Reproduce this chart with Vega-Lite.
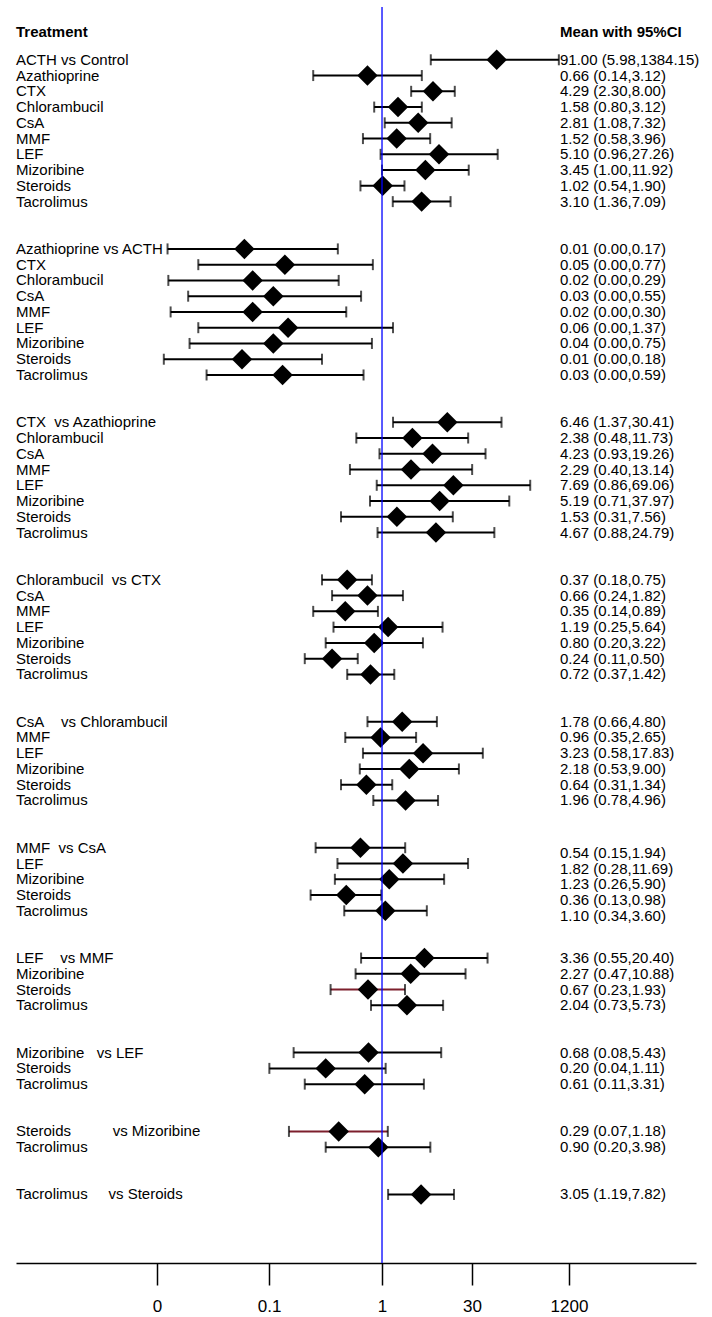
{
  "$schema": "https://vega.github.io/schema/vega-lite/v6.json",
  "width": 680,
  "height": 1256,
  "autosize": {"type": "none"},
  "padding": {"left": 16, "top": 7, "right": 16, "bottom": 54},
  "background": "white",
  "config": {"view": {"stroke": null}, "font": "Liberation Sans"},
  "data": {"values": [
    {"key": "ACTH vs Control", "label": "ACTH vs Control", "or": 26.5, "lo": 4.03, "hi": 156.5, "ci": "91.00 (5.98,1384.15)"},
    {"key": "Azathioprine vs Control", "label": "Azathioprine", "or": 0.66, "lo": 0.14, "hi": 3.12, "ci": "0.66 (0.14,3.12)"},
    {"key": "CTX vs Control", "label": "CTX", "or": 4.29, "lo": 2.30, "hi": 8.00, "ci": "4.29 (2.30,8.00)"},
    {"key": "Chlorambucil vs Control", "label": "Chlorambucil", "or": 1.58, "lo": 0.80, "hi": 3.12, "ci": "1.58 (0.80,3.12)"},
    {"key": "CsA vs Control", "label": "CsA", "or": 2.81, "lo": 1.08, "hi": 7.32, "ci": "2.81 (1.08,7.32)"},
    {"key": "MMF vs Control", "label": "MMF", "or": 1.52, "lo": 0.58, "hi": 3.96, "ci": "1.52 (0.58,3.96)"},
    {"key": "LEF vs Control", "label": "LEF", "or": 5.10, "lo": 0.96, "hi": 27.26, "ci": "5.10 (0.96,27.26)"},
    {"key": "Mizoribine vs Control", "label": "Mizoribine", "or": 3.45, "lo": 1.00, "hi": 11.92, "ci": "3.45 (1.00,11.92)"},
    {"key": "Steroids vs Control", "label": "Steroids", "or": 1.02, "lo": 0.54, "hi": 1.90, "ci": "1.02 (0.54,1.90)"},
    {"key": "Tacrolimus vs Control", "label": "Tacrolimus", "or": 3.10, "lo": 1.36, "hi": 7.09, "ci": "3.10 (1.36,7.09)"},

    {"key": "Azathioprine vs ACTH", "label": "Azathioprine vs ACTH", "or": 0.0196, "lo": 0.00218, "hi": 0.283, "ci": "0.01 (0.00,0.17)"},
    {"key": "CTX vs ACTH", "label": "CTX", "or": 0.0623, "lo": 0.00525, "hi": 0.77, "ci": "0.05 (0.00,0.77)"},
    {"key": "Chlorambucil vs ACTH", "label": "Chlorambucil", "or": 0.0248, "lo": 0.00223, "hi": 0.29, "ci": "0.02 (0.00,0.29)"},
    {"key": "CsA vs ACTH", "label": "CsA", "or": 0.0448, "lo": 0.00393, "hi": 0.55, "ci": "0.03 (0.00,0.55)"},
    {"key": "MMF vs ACTH", "label": "MMF", "or": 0.0248, "lo": 0.00238, "hi": 0.36, "ci": "0.02 (0.00,0.30)"},
    {"key": "LEF vs ACTH", "label": "LEF", "or": 0.0683, "lo": 0.00525, "hi": 1.37, "ci": "0.06 (0.00,1.37)"},
    {"key": "Mizoribine vs ACTH", "label": "Mizoribine", "or": 0.0448, "lo": 0.00409, "hi": 0.75, "ci": "0.04 (0.00,0.75)"},
    {"key": "Steroids vs ACTH", "label": "Steroids", "or": 0.0183, "lo": 0.00196, "hi": 0.18, "ci": "0.01 (0.00,0.18)"},
    {"key": "Tacrolimus vs ACTH", "label": "Tacrolimus", "or": 0.0583, "lo": 0.00665, "hi": 0.59, "ci": "0.03 (0.00,0.59)"},

    {"key": "CTX vs Azathioprine", "label": "CTX\u00a0 vs Azathioprine", "or": 6.46, "lo": 1.37, "hi": 30.41, "ci": "6.46 (1.37,30.41)"},
    {"key": "Chlorambucil vs Azathioprine", "label": "Chlorambucil", "or": 2.38, "lo": 0.48, "hi": 11.73, "ci": "2.38 (0.48,11.73)"},
    {"key": "CsA vs Azathioprine", "label": "CsA", "or": 4.23, "lo": 0.93, "hi": 19.26, "ci": "4.23 (0.93,19.26)"},
    {"key": "MMF vs Azathioprine", "label": "MMF", "or": 2.29, "lo": 0.40, "hi": 13.14, "ci": "2.29 (0.40,13.14)"},
    {"key": "LEF vs Azathioprine", "label": "LEF", "or": 7.69, "lo": 0.86, "hi": 69.06, "ci": "7.69 (0.86,69.06)"},
    {"key": "Mizoribine vs Azathioprine", "label": "Mizoribine", "or": 5.19, "lo": 0.71, "hi": 37.97, "ci": "5.19 (0.71,37.97)"},
    {"key": "Steroids vs Azathioprine", "label": "Steroids", "or": 1.53, "lo": 0.31, "hi": 7.56, "ci": "1.53 (0.31,7.56)"},
    {"key": "Tacrolimus vs Azathioprine", "label": "Tacrolimus", "or": 4.67, "lo": 0.88, "hi": 24.79, "ci": "4.67 (0.88,24.79)"},

    {"key": "Chlorambucil vs CTX", "label": "Chlorambucil\u00a0 vs CTX", "or": 0.37, "lo": 0.18, "hi": 0.75, "ci": "0.37 (0.18,0.75)"},
    {"key": "CsA vs CTX", "label": "CsA", "or": 0.66, "lo": 0.24, "hi": 1.82, "ci": "0.66 (0.24,1.82)"},
    {"key": "MMF vs CTX", "label": "MMF", "or": 0.35, "lo": 0.14, "hi": 0.89, "ci": "0.35 (0.14,0.89)"},
    {"key": "LEF vs CTX", "label": "LEF", "or": 1.19, "lo": 0.25, "hi": 5.64, "ci": "1.19 (0.25,5.64)"},
    {"key": "Mizoribine vs CTX", "label": "Mizoribine", "or": 0.80, "lo": 0.20, "hi": 3.22, "ci": "0.80 (0.20,3.22)"},
    {"key": "Steroids vs CTX", "label": "Steroids", "or": 0.24, "lo": 0.11, "hi": 0.50, "ci": "0.24 (0.11,0.50)"},
    {"key": "Tacrolimus vs CTX", "label": "Tacrolimus", "or": 0.72, "lo": 0.37, "hi": 1.42, "ci": "0.72 (0.37,1.42)"},

    {"key": "CsA vs Chlorambucil", "label": "CsA\u00a0\u00a0\u00a0 vs Chlorambucil", "or": 1.78, "lo": 0.66, "hi": 4.80, "ci": "1.78 (0.66,4.80)"},
    {"key": "MMF vs Chlorambucil", "label": "MMF", "or": 0.96, "lo": 0.35, "hi": 2.65, "ci": "0.96 (0.35,2.65)"},
    {"key": "LEF vs Chlorambucil", "label": "LEF", "or": 3.23, "lo": 0.58, "hi": 17.83, "ci": "3.23 (0.58,17.83)"},
    {"key": "Mizoribine vs Chlorambucil", "label": "Mizoribine", "or": 2.18, "lo": 0.53, "hi": 9.00, "ci": "2.18 (0.53,9.00)"},
    {"key": "Steroids vs Chlorambucil", "label": "Steroids", "or": 0.64, "lo": 0.31, "hi": 1.34, "ci": "0.64 (0.31,1.34)"},
    {"key": "Tacrolimus vs Chlorambucil", "label": "Tacrolimus", "or": 1.96, "lo": 0.78, "hi": 4.96, "ci": "1.96 (0.78,4.96)"},

    {"key": "MMF vs CsA", "label": "MMF\u00a0 vs CsA", "or": 0.54, "lo": 0.15, "hi": 1.94, "ci": "0.54 (0.15,1.94)"},
    {"key": "LEF vs CsA", "label": "LEF", "or": 1.82, "lo": 0.28, "hi": 11.69, "ci": "1.82 (0.28,11.69)"},
    {"key": "Mizoribine vs CsA", "label": "Mizoribine", "or": 1.23, "lo": 0.26, "hi": 5.90, "ci": "1.23 (0.26,5.90)"},
    {"key": "Steroids vs CsA", "label": "Steroids", "or": 0.36, "lo": 0.13, "hi": 0.98, "ci": "0.36 (0.13,0.98)"},
    {"key": "Tacrolimus vs CsA", "label": "Tacrolimus", "or": 1.10, "lo": 0.34, "hi": 3.60, "ci": "1.10 (0.34,3.60)"},

    {"key": "LEF vs MMF", "label": "LEF\u00a0\u00a0\u00a0 vs MMF", "or": 3.36, "lo": 0.55, "hi": 20.40, "ci": "3.36 (0.55,20.40)"},
    {"key": "Mizoribine vs MMF", "label": "Mizoribine", "or": 2.27, "lo": 0.47, "hi": 10.88, "ci": "2.27 (0.47,10.88)"},
    {"key": "Steroids vs MMF", "label": "Steroids", "or": 0.67, "lo": 0.23, "hi": 1.93, "ci": "0.67 (0.23,1.93)"},
    {"key": "Tacrolimus vs MMF", "label": "Tacrolimus", "or": 2.04, "lo": 0.73, "hi": 5.73, "ci": "2.04 (0.73,5.73)"},

    {"key": "Mizoribine vs LEF", "label": "Mizoribine\u00a0\u00a0 vs LEF", "or": 0.68, "lo": 0.08, "hi": 5.43, "ci": "0.68 (0.08,5.43)"},
    {"key": "Steroids vs LEF", "label": "Steroids", "or": 0.20, "lo": 0.04, "hi": 1.11, "ci": "0.20 (0.04,1.11)"},
    {"key": "Tacrolimus vs LEF", "label": "Tacrolimus", "or": 0.61, "lo": 0.11, "hi": 3.31, "ci": "0.61 (0.11,3.31)"},

    {"key": "Steroids vs Mizoribine", "label": "Steroids\u00a0\u00a0\u00a0\u00a0\u00a0\u00a0\u00a0\u00a0\u00a0 vs Mizoribine", "or": 0.29, "lo": 0.07, "hi": 1.18, "ci": "0.29 (0.07,1.18)"},
    {"key": "Tacrolimus vs Mizoribine", "label": "Tacrolimus", "or": 0.90, "lo": 0.20, "hi": 3.98, "ci": "0.90 (0.20,3.98)"},

    {"key": "Tacrolimus vs Steroids", "label": "Tacrolimus\u00a0\u00a0\u00a0\u00a0 vs Steroids", "or": 3.05, "lo": 1.19, "hi": 7.82, "ci": "3.05 (1.19,7.82)"}
  ]},
  "layer": [
    {
      "mark": {"type": "rule", "strokeWidth": 2},
      "encoding": {
        "x": {"field": "lo", "type": "quantitative",
              "scale": {"type": "log", "domain": [2.87e-5, 7880], "nice": false, "zero": false},
              "axis": {"title": null, "grid": false, "values": [0.001614, 0.03963, 1, 13.08, 209.1],
                       "labelExpr": "datum.value < 0.01 ? '0' : datum.value < 0.5 ? '0.1' : datum.value < 2 ? '1' : datum.value < 100 ? '30' : '1200'",
                       "domainColor": "black", "domainWidth": 1.5, "tickColor": "black", "tickWidth": 1.5, "tickSize": 22,
                       "labelFontSize": 17, "labelFont": "Liberation Sans", "labelColor": "black", "labelPadding": 13,
                       "labelFlush": false, "labelOverlap": false}},
        "x2": {"field": "hi"},
        "y": {"field": "key", "type": "nominal", "axis": null,
              "scale": {"type": "point", "padding": 0.35, "domain": [
                "_t0", "_hdr", "_t1",
                "ACTH vs Control", "Azathioprine vs Control", "CTX vs Control", "Chlorambucil vs Control", "CsA vs Control", "MMF vs Control", "LEF vs Control", "Mizoribine vs Control", "Steroids vs Control", "Tacrolimus vs Control",
                "_g1a", "_g1b",
                "Azathioprine vs ACTH", "CTX vs ACTH", "Chlorambucil vs ACTH", "CsA vs ACTH", "MMF vs ACTH", "LEF vs ACTH", "Mizoribine vs ACTH", "Steroids vs ACTH", "Tacrolimus vs ACTH",
                "_g2a", "_g2b",
                "CTX vs Azathioprine", "Chlorambucil vs Azathioprine", "CsA vs Azathioprine", "MMF vs Azathioprine", "LEF vs Azathioprine", "Mizoribine vs Azathioprine", "Steroids vs Azathioprine", "Tacrolimus vs Azathioprine",
                "_g3a", "_g3b",
                "Chlorambucil vs CTX", "CsA vs CTX", "MMF vs CTX", "LEF vs CTX", "Mizoribine vs CTX", "Steroids vs CTX", "Tacrolimus vs CTX",
                "_g4a", "_g4b",
                "CsA vs Chlorambucil", "MMF vs Chlorambucil", "LEF vs Chlorambucil", "Mizoribine vs Chlorambucil", "Steroids vs Chlorambucil", "Tacrolimus vs Chlorambucil",
                "_g5a", "_g5b",
                "MMF vs CsA", "LEF vs CsA", "Mizoribine vs CsA", "Steroids vs CsA", "Tacrolimus vs CsA",
                "_g6a", "_g6b",
                "LEF vs MMF", "Mizoribine vs MMF", "Steroids vs MMF", "Tacrolimus vs MMF",
                "_g7a", "_g7b",
                "Mizoribine vs LEF", "Steroids vs LEF", "Tacrolimus vs LEF",
                "_g8a", "_g8b",
                "Steroids vs Mizoribine", "Tacrolimus vs Mizoribine",
                "_g9a", "_g9b",
                "Tacrolimus vs Steroids",
                "_e1", "_e2", "_e3", "_e4"
              ]}},
        "color": {"condition": {"test": "datum.key === 'Steroids vs Mizoribine' || datum.key === 'Steroids vs MMF'", "value": "#7d1f2c"}, "value": "black"}
      }
    },
    {
      "mark": {"type": "tick", "orient": "vertical", "size": 11, "thickness": 2, "color": "black"},
      "encoding": {"x": {"field": "lo", "type": "quantitative"}, "y": {"field": "key", "type": "nominal"}}
    },
    {
      "mark": {"type": "tick", "orient": "vertical", "size": 11, "thickness": 2, "color": "black"},
      "encoding": {"x": {"field": "hi", "type": "quantitative"}, "y": {"field": "key", "type": "nominal"}}
    },
    {
      "mark": {"type": "point", "shape": "diamond", "filled": true, "size": 420, "color": "black", "opacity": 1},
      "encoding": {"x": {"field": "or", "type": "quantitative"}, "y": {"field": "key", "type": "nominal"}}
    },
    {
      "mark": {"type": "text", "align": "left", "baseline": "middle", "fontSize": 15, "color": "black"},
      "encoding": {"x": {"datum": 2.87e-5, "type": "quantitative"}, "y": {"field": "key", "type": "nominal"}, "text": {"field": "label"}}
    },
    {
      "transform": [{"filter": {"not": {"field": "key", "oneOf": ["MMF vs CsA", "LEF vs CsA", "Mizoribine vs CsA", "Steroids vs CsA", "Tacrolimus vs CsA"]}}}],
      "mark": {"type": "text", "align": "left", "baseline": "middle", "fontSize": 15, "color": "black"},
      "encoding": {"x": {"datum": 161.7, "type": "quantitative"}, "y": {"field": "key", "type": "nominal"}, "text": {"field": "ci"}}
    },
    {
      "transform": [{"filter": {"field": "key", "oneOf": ["MMF vs CsA", "LEF vs CsA", "Mizoribine vs CsA", "Steroids vs CsA", "Tacrolimus vs CsA"]}}],
      "mark": {"type": "text", "align": "left", "baseline": "middle", "fontSize": 15, "color": "black", "dy": 5},
      "encoding": {"x": {"datum": 161.7, "type": "quantitative"}, "y": {"field": "key", "type": "nominal"}, "text": {"field": "ci"}}
    },
    {
      "data": {"values": [{}]},
      "mark": {"type": "text", "align": "left", "baseline": "middle", "fontSize": 15, "fontWeight": "bold", "color": "black", "dy": 3.4},
      "encoding": {"x": {"datum": 2.87e-5, "type": "quantitative"}, "y": {"datum": "_hdr", "type": "nominal"}, "text": {"value": "Treatment"}}
    },
    {
      "data": {"values": [{}]},
      "mark": {"type": "text", "align": "left", "baseline": "middle", "fontSize": 15, "fontWeight": "bold", "color": "black", "dy": 3.4},
      "encoding": {"x": {"datum": 161.7, "type": "quantitative"}, "y": {"datum": "_hdr", "type": "nominal"}, "text": {"value": "Mean with 95%CI"}}
    },
    {
      "data": {"values": [{}]},
      "mark": {"type": "rule", "color": "#0000FF", "strokeWidth": 1.3},
      "encoding": {"x": {"datum": 1, "type": "quantitative"}}
    }
  ]
}
